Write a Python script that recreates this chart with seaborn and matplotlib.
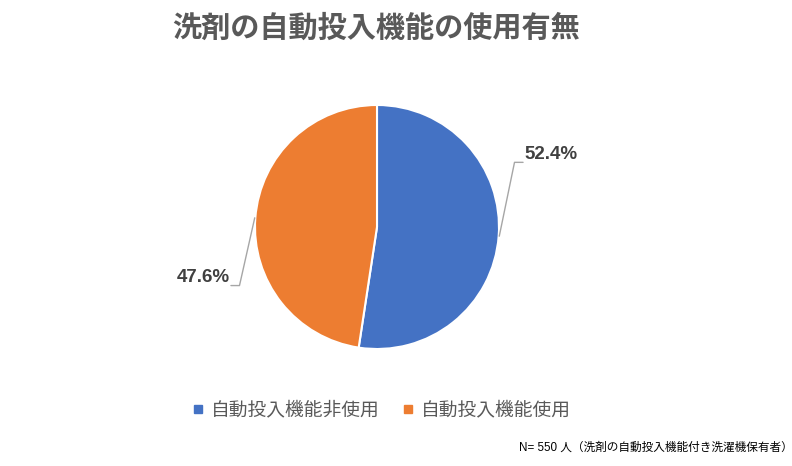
import numpy as np
import matplotlib.pyplot as plt
from matplotlib.lines import Line2D
import seaborn as sns

# data
categories = ["自動投入機能非使用", "自動投入機能使用"]
shares = [52.4, 47.6]
colors = ["#4472C4", "#ED7D31"]
title = "洗剤の自動投入機能の使用有無"
note = "N= 550 人（洗剤の自動投入機能付き洗濯機保有者）"

sns.set_theme(style="white")
plt.rcParams["font.family"] = ["Noto Sans CJK JP", "DejaVu Sans"]

W, H = 792, 466
fig = plt.figure(figsize=(W / 100, H / 100), dpi=100)

# pie centre (377, 227) px, radius 122 px
cx, cy, r = 377, 227, 122
ax = fig.add_axes([(cx - r) / W, (H - cy - r) / H, 2 * r / W, 2 * r / H])

wedges, _ = ax.pie(shares, colors=colors, startangle=90, counterclock=False,
                   radius=1, wedgeprops=dict(edgecolor="white", linewidth=1.5))
ax.set_xlim(-1, 1)
ax.set_ylim(-1, 1)
ax.set_aspect("equal")
ax.axis("off")

# leader lines + labels
line_col = "#A6A6A6"
for w, val in zip(wedges, shares):
    mid = np.deg2rad((w.theta1 + w.theta2) / 2)
    x0, y0 = np.cos(mid), np.sin(mid)
    side = 1 if x0 > 0 else -1
    # elbow goes up on the right, down on the left
    bx = x0 + side * 0.13
    by = 0.53 if side > 0 else -0.48
    ex = bx + side * 0.07
    ax.plot([x0 * 1.005, bx, ex], [y0, by, by], color=line_col, lw=1.0,
            clip_on=False)
    ax.text(ex + side * 0.01, by - 0.005, f"{val:.1f}%",
            ha="left" if side > 0 else "right", va="bottom",
            fontsize=13.5, fontweight="bold", color="#404040",
            family=["Liberation Sans", "DejaVu Sans"])

fig.text(376 / W, 1 - 28 / H, title, ha="center", va="center",
         fontsize=21, fontweight="bold", color="#595959")

handles = [Line2D([0], [0], marker="s", linestyle="", markersize=6,
                  markerfacecolor=c, markeredgecolor=c) for c in colors]
fig.legend(handles, categories, loc="center", bbox_to_anchor=(380 / W, 1 - 410 / H),
           ncol=2, frameon=False, fontsize=13.5, labelcolor="#595959",
           handletextpad=0.2, columnspacing=1.0, handlelength=1.0)

fig.text(793 / W, 1 - 448 / H, note, ha="right", va="center",
         fontsize=8.4, color="#000000",
         family=["Liberation Sans", "Noto Sans CJK JP"])

fig.savefig("out.png", dpi=100)
